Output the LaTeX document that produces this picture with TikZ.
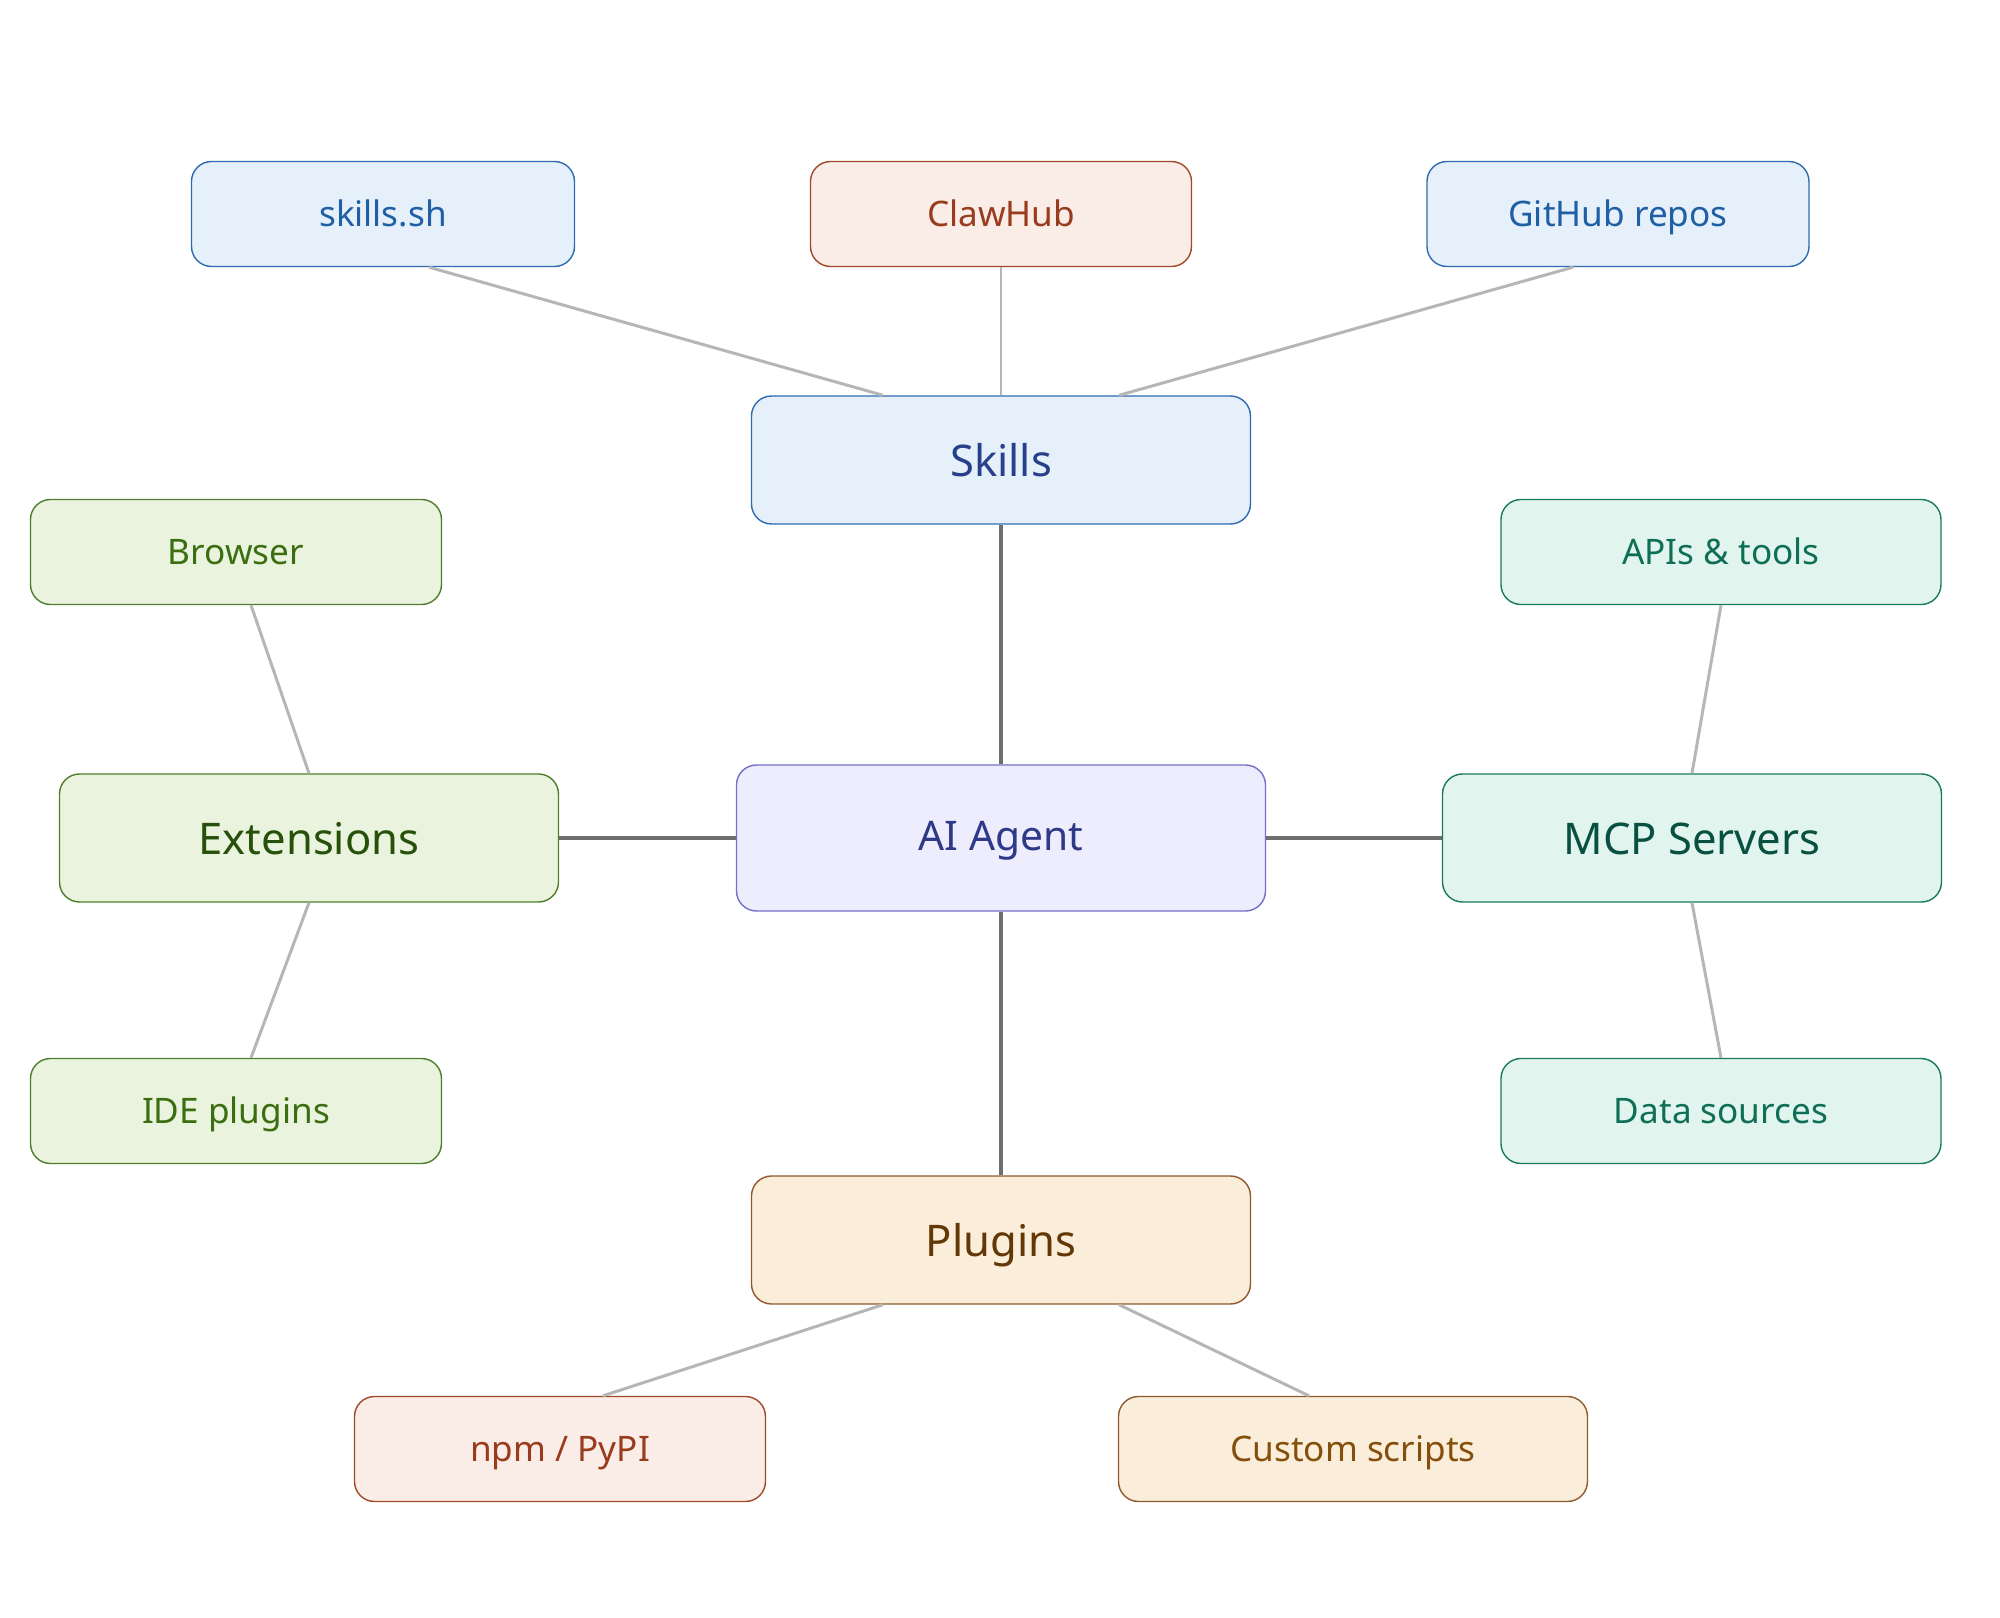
\documentclass[tikz,border=0pt]{standalone}
\usepackage{fontspec}
\setmainfont{Noto Sans}
\definecolor{skillfill}{HTML}{E6F0FA}
\definecolor{skilldraw}{HTML}{2F6BB0}
\definecolor{skilltext}{HTML}{1F5FA6}
\definecolor{skilldark}{HTML}{27408B}
\definecolor{hubfill}{HTML}{FAECE7}
\definecolor{hubdraw}{HTML}{A2492A}
\definecolor{hubtext}{HTML}{993C1D}
\definecolor{extfill}{HTML}{EAF3DE}
\definecolor{extdraw}{HTML}{4F7F2C}
\definecolor{exttext}{HTML}{3B6D11}
\definecolor{extdark}{HTML}{27500A}
\definecolor{agentfill}{HTML}{EEEDFE}
\definecolor{agentdraw}{HTML}{7470C8}
\definecolor{agenttext}{HTML}{2E3A87}
\definecolor{mcpfill}{HTML}{E1F5EE}
\definecolor{mcpdraw}{HTML}{1A7A5C}
\definecolor{mcptext}{HTML}{0F6E56}
\definecolor{mcpdark}{HTML}{085041}
\definecolor{plugfill}{HTML}{FAEEDA}
\definecolor{plugdraw}{HTML}{8E5A2E}
\definecolor{plugtext}{HTML}{854F0B}
\definecolor{plugdark}{HTML}{633806}
\definecolor{linkgray}{HTML}{B6B6B6}
\definecolor{coregray}{HTML}{6E6E6E}
\usetikzlibrary{calc}

\begin{document}
\begin{tikzpicture}[x=0.1mm,y=-0.1mm,
    box/.style={rounded corners=2mm, line width=0.4pt, align=center, inner sep=0pt,
        text height=0.92em, text depth=0.2em},
    leaf/.style={box, minimum height=10.5mm, font=\fontsize{10}{12}\selectfont},
    hub/.style={box, minimum height=12.8mm, minimum width=49.9mm, font=\fontsize{12.4}{14}\selectfont,
        text height=1.12em},
    link/.style={linkgray, line width=0.85pt},
    core/.style={coregray, line width=1.1pt}]
    \useasboundingbox (0,0) rectangle (2000,1618);

    % Centre
    \node[box, minimum width=52.9mm, minimum height=14.6mm, font=\fontsize{11.6}{14}\selectfont,
          fill=agentfill, draw=agentdraw, text=agenttext] (agent) at (1001,838) {AI Agent};

    % Hubs
    \node[hub, fill=skillfill, draw=skilldraw, text=skilldark] (skills) at (1001,460) {Skills};
    \node[hub, fill=extfill, draw=extdraw, text=extdark] (ext) at (309,838) {Extensions};
    \node[hub, fill=mcpfill, draw=mcpdraw, text=mcpdark] (mcp) at (1692,838) {MCP Servers};
    \node[hub, fill=plugfill, draw=plugdraw, text=plugdark] (plug) at (1001,1240) {Plugins};

    % Leaves
    \node[leaf, minimum width=38.3mm, fill=skillfill, draw=skilldraw, text=skilltext] (skillsh) at (383,214) {skills.sh};
    \node[leaf, minimum width=38.1mm, fill=hubfill, draw=hubdraw, text=hubtext] (clawhub) at (1001,214) {ClawHub};
    \node[leaf, minimum width=38.2mm, fill=skillfill, draw=skilldraw, text=skilltext] (github) at (1618,214) {GitHub repos};
    \node[leaf, minimum width=41.1mm, fill=extfill, draw=extdraw, text=exttext] (browser) at (236,552) {Browser};
    \node[leaf, minimum width=41.1mm, fill=extfill, draw=extdraw, text=exttext] (ide) at (236,1111) {IDE plugins};
    \node[leaf, minimum width=44mm, fill=mcpfill, draw=mcpdraw, text=mcptext] (apis) at (1721,552) {APIs \& tools};
    \node[leaf, minimum width=44mm, fill=mcpfill, draw=mcpdraw, text=mcptext] (data) at (1721,1111) {Data sources};
    \node[leaf, minimum width=41.1mm, fill=hubfill, draw=hubdraw, text=hubtext] (npm) at (560,1449) {npm / PyPI};
    \node[leaf, minimum width=46.9mm, fill=plugfill, draw=plugdraw, text=plugtext] (custom) at (1353,1449) {Custom scripts};

    % Core links
    \draw[core] (agent) -- (skills);
    \draw[core] (agent) -- (ext);
    \draw[core] (agent) -- (mcp);
    \draw[core] (agent) -- (plug);

    % Outer links
    \draw[link] ($(skillsh.south)+(46,0)$) -- ($(skills.north)+(-118,0)$);
    \draw[link] (clawhub.south) -- (skills.north);
    \draw[link] ($(github.south)+(-45,0)$) -- ($(skills.north)+(118,0)$);
    \draw[link] ($(browser.south)+(15,0)$) -- (ext.north);
    \draw[link] (ext.south) -- ($(ide.north)+(15,0)$);
    \draw[link] (apis.south) -- (mcp.north);
    \draw[link] (mcp.south) -- (data.north);
    \draw[link] ($(plug.south)+(-118,0)$) -- ($(npm.north)+(43,0)$);
    \draw[link] ($(plug.south)+(118,0)$) -- ($(custom.north)+(-44,0)$);
\end{tikzpicture}
\end{document}
